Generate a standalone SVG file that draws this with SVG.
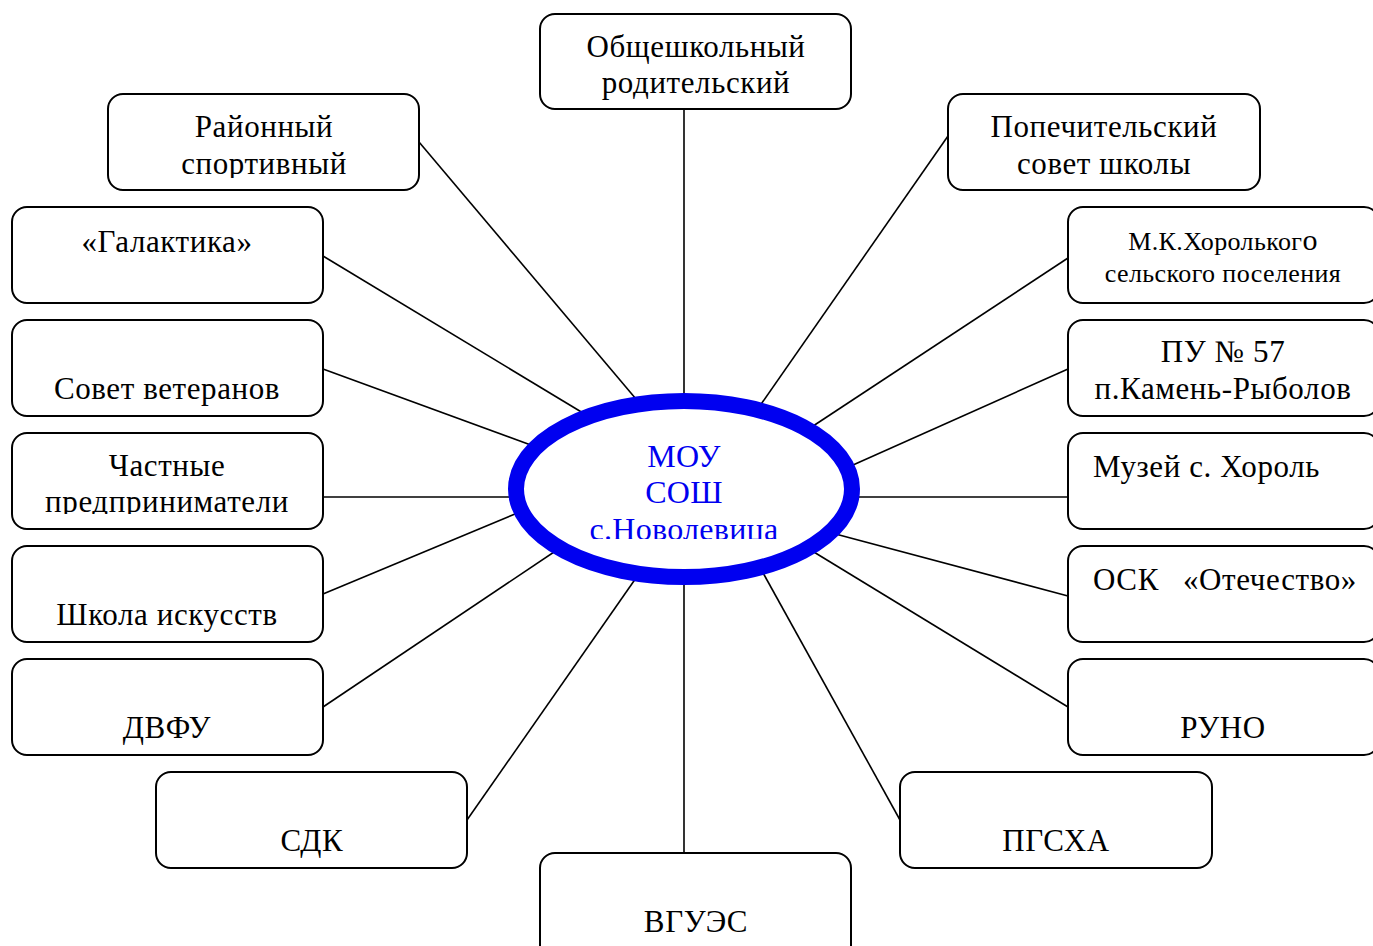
<svg xmlns="http://www.w3.org/2000/svg" width="1373" height="946" viewBox="0 0 1373 946">
<style>
.box{fill:#fff;stroke:#000;stroke-width:2}
.t{font-family:"Liberation Serif","Times New Roman",serif;font-size:31px;letter-spacing:0.6px;fill:#000}
.c{text-anchor:middle}
.s{font-size:26px;letter-spacing:0.4px}
.ln{stroke:#000;stroke-width:1.6;fill:none}
.ctr{font-family:"Liberation Serif","Times New Roman",serif;font-size:32px;letter-spacing:0.3px;fill:#0000f0;text-anchor:middle}
</style>
<defs>
<clipPath id="clipA"><rect x="100" y="90" width="330" height="88"/></clipPath>
<clipPath id="clipB"><rect x="0" y="430" width="330" height="84"/></clipPath>
<clipPath id="clipC"><rect x="520" y="420" width="330" height="119"/></clipPath>
</defs>
<rect width="1373" height="946" fill="#fff"/>
<g id="connectors">
<line class="ln" x1="419" y1="142" x2="636" y2="399"/>
<line class="ln" x1="684" y1="109" x2="684" y2="401"/>
<line class="ln" x1="948" y1="136" x2="757" y2="410"/>
<line class="ln" x1="323" y1="256" x2="588" y2="416"/>
<line class="ln" x1="1068" y1="258" x2="804" y2="432"/>
<line class="ln" x1="323" y1="369" x2="539" y2="448"/>
<line class="ln" x1="1068" y1="369" x2="853" y2="465"/>
<line class="ln" x1="323" y1="497" x2="516" y2="497"/>
<line class="ln" x1="1068" y1="497" x2="852" y2="497"/>
<line class="ln" x1="323" y1="594" x2="515" y2="514"/>
<line class="ln" x1="1068" y1="596" x2="828" y2="532"/>
<line class="ln" x1="323" y1="707" x2="563" y2="546"/>
<line class="ln" x1="1068" y1="707" x2="804" y2="546"/>
<line class="ln" x1="467" y1="820" x2="636" y2="578"/>
<line class="ln" x1="684" y1="853" x2="684" y2="577"/>
<line class="ln" x1="900" y1="820" x2="757" y2="562"/>
</g>
<g id="center">
<ellipse cx="684" cy="489" rx="168" ry="88" fill="#fff" stroke="#0000f0" stroke-width="16"/>
<g clip-path="url(#clipC)">
<text class="ctr" x="684" y="467">МОУ</text>
<text class="ctr" x="684" y="503">СОШ</text>
<text class="ctr" x="684" y="540">с.Новолевица</text>
</g>
</g>
<g id="n-obsh">
<rect class="box" x="540" y="14" width="311" height="95" rx="15"/>
<text class="t c" x="696" y="57">Общешкольный</text>
<text class="t c" x="696" y="93">родительский</text>
</g>
<g id="n-rayon">
<rect class="box" x="108" y="94" width="311" height="96" rx="15"/>
<text class="t c" x="264" y="137">Районный</text>
<text class="t c" x="264" y="174" clip-path="url(#clipA)">спортивный</text>
</g>
<g id="n-popech">
<rect class="box" x="948" y="94" width="312" height="96" rx="15"/>
<text class="t c" x="1104" y="137">Попечительский</text>
<text class="t c" x="1104" y="174">совет школы</text>
</g>
<g id="n-galakt">
<rect class="box" x="12" y="207" width="311" height="96" rx="15"/>
<text class="t c" x="167" y="252">«Галактика»</text>
</g>
<g id="n-mk">
<rect class="box" x="1068" y="207" width="311" height="96" rx="15"/>
<text class="t c s" x="1223" y="250">М.К.Хорольког<tspan font-size="30">о</tspan></text>
<text class="t c s" x="1223" y="282">сельского поселения</text>
</g>
<g id="n-sovet">
<rect class="box" x="12" y="320" width="311" height="96" rx="15"/>
<text class="t c" x="167" y="399">Совет ветеранов</text>
</g>
<g id="n-pu">
<rect class="box" x="1068" y="320" width="311" height="96" rx="15"/>
<text class="t c" x="1223" y="362">ПУ № 57</text>
<text class="t c" x="1223" y="399">п.Камень-Рыболов</text>
</g>
<g id="n-chast">
<rect class="box" x="12" y="433" width="311" height="96" rx="15"/>
<text class="t c" x="167" y="476">Частные</text>
<text class="t c" x="167" y="512" clip-path="url(#clipB)">предприниматели</text>
</g>
<g id="n-muzey">
<rect class="box" x="1068" y="433" width="311" height="96" rx="15"/>
<text class="t" x="1093" y="477">Музей с. Хороль</text>
</g>
<g id="n-shkola">
<rect class="box" x="12" y="546" width="311" height="96" rx="15"/>
<text class="t c" x="167" y="625">Школа искусств</text>
</g>
<g id="n-osk">
<rect class="box" x="1068" y="546" width="311" height="96" rx="15"/>
<text class="t" x="1093" y="590">ОСК<tspan x="1183">«Отечество»</tspan></text>
</g>
<g id="n-dvfu">
<rect class="box" x="12" y="659" width="311" height="96" rx="15"/>
<text class="t c" x="167" y="738">ДВФУ</text>
</g>
<g id="n-runo">
<rect class="box" x="1068" y="659" width="311" height="96" rx="15"/>
<text class="t c" x="1223" y="738">РУНО</text>
</g>
<g id="n-sdk">
<rect class="box" x="156" y="772" width="311" height="96" rx="15"/>
<text class="t c" x="312" y="851">СДК</text>
</g>
<g id="n-pgsha">
<rect class="box" x="900" y="772" width="312" height="96" rx="15"/>
<text class="t c" x="1056" y="851">ПГСХА</text>
</g>
<g id="n-vguez">
<rect class="box" x="540" y="853" width="311" height="110" rx="15"/>
<text class="t c" x="696" y="932">ВГУЭС</text>
</g>
</svg>
